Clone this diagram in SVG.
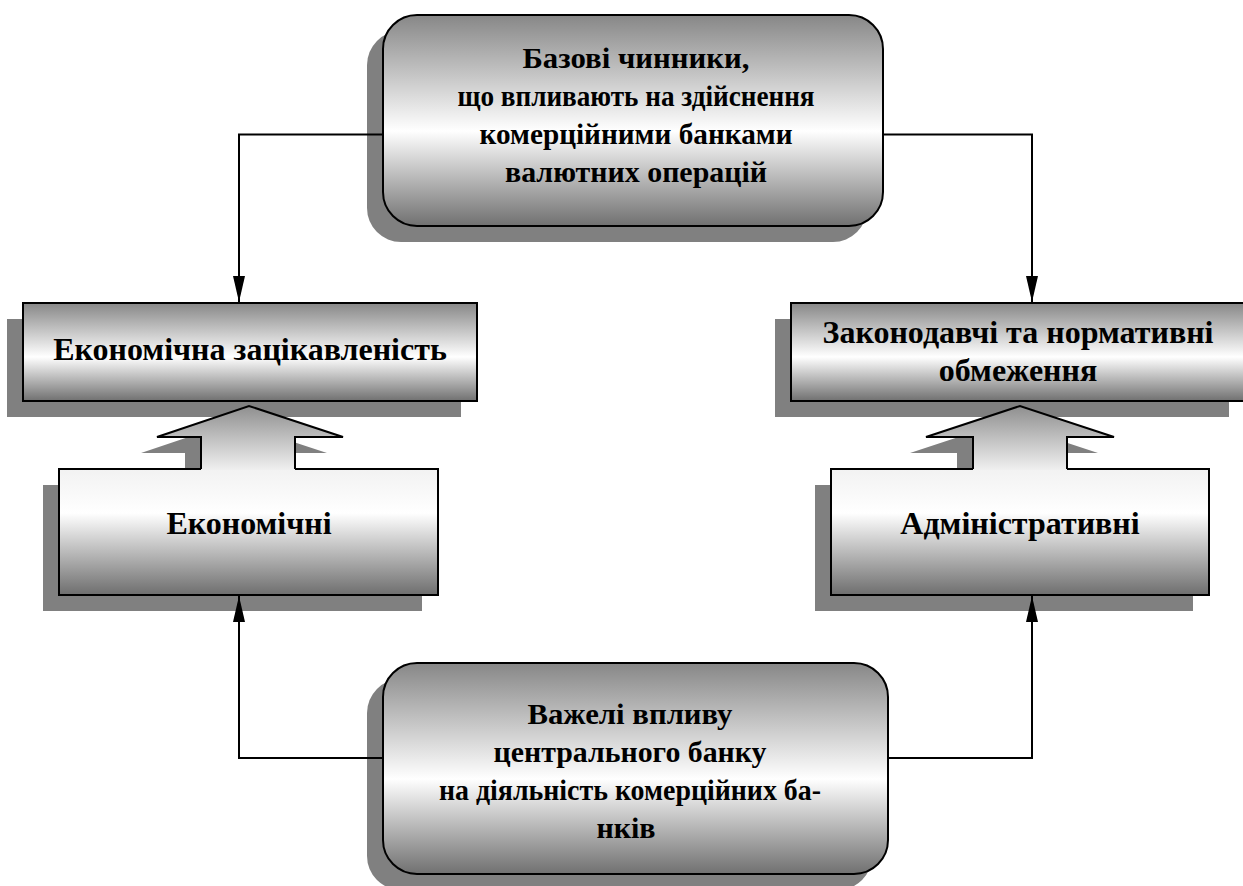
<svg xmlns="http://www.w3.org/2000/svg" width="1243" height="886" viewBox="0 0 1243 886">
  <defs>
    <linearGradient id="gBox" x1="0" y1="0" x2="0" y2="1">
      <stop offset="0" stop-color="#878787"/>
      <stop offset="0.55" stop-color="#ffffff"/>
      <stop offset="1" stop-color="#707070"/>
    </linearGradient>
    <linearGradient id="gLow" x1="0" y1="0" x2="0" y2="1">
      <stop offset="0" stop-color="#f2f2f2"/>
      <stop offset="0.35" stop-color="#ffffff"/>
      <stop offset="1" stop-color="#6e6e6e"/>
    </linearGradient>
    <linearGradient id="gArrow" x1="0" y1="0" x2="0" y2="1">
      <stop offset="0" stop-color="#8f8f8f"/>
      <stop offset="1" stop-color="#f0f0f0"/>
    </linearGradient>
    <!-- long narrow filled arrowhead; tip sits on the path end -->
    <marker id="head" viewBox="0 0 26 12" refX="26" refY="6" markerWidth="26" markerHeight="12" markerUnits="userSpaceOnUse" orient="auto">
      <path d="M0,0 L26,6 L0,12 Z" fill="#000"/>
    </marker>
  </defs>
  <style>
    .shadow { fill: #808080; }
    .box { fill: url(#gBox); stroke: #000; stroke-width: 2; }
    .low { fill: url(#gLow); stroke: #000; stroke-width: 2; }
    .arrowfill { fill: url(#gArrow); stroke: none; }
    .arrowedge { fill: none; stroke: #000; stroke-width: 2; stroke-linejoin: miter; }
    .conn { fill: none; stroke: #000; stroke-width: 2; }
    text { font-family: "Liberation Serif", "Times New Roman", serif; font-weight: bold; font-size: 30px; fill: #000; text-anchor: middle; }
    text.big { font-size: 32px; }
  </style>

  <!-- drop shadows -->
  <g id="shadows">
    <rect class="shadow" x="367" y="31" width="500" height="211" rx="34"/>
    <rect class="shadow" x="7" y="319" width="454" height="98"/>
    <rect class="shadow" x="775" y="319" width="454" height="98"/>
    <polygon class="shadow" points="233,422 327,453 279,453 279,485 185,485 185,453 141,453"/>
    <polygon class="shadow" points="1004,422 1098,453 1051,453 1051,485 957,485 957,453 910,453"/>
    <rect class="shadow" x="43" y="485" width="379" height="126"/>
    <rect class="shadow" x="815" y="485" width="378" height="126"/>
    <rect class="shadow" x="367" y="679" width="505" height="211" rx="34"/>
  </g>

  <!-- connectors -->
  <g id="connectors">
    <polyline class="conn" points="383,134.5 239,134.5 239,302" marker-end="url(#head)"/>
    <polyline class="conn" points="883,134.5 1032,134.5 1032,302" marker-end="url(#head)"/>
    <polyline class="conn" points="383,758 239,758 239,596" marker-end="url(#head)"/>
    <polyline class="conn" points="888,758 1032,758 1032,596" marker-end="url(#head)"/>
  </g>

  <g id="base-factors">
    <rect class="box" x="383" y="15" width="500" height="211" rx="34"/>
    <text x="636" y="68" textLength="227" lengthAdjust="spacingAndGlyphs">Базові чинники,</text>
    <text x="636" y="106" textLength="357" lengthAdjust="spacingAndGlyphs">що впливають на здійснення</text>
    <text x="636" y="144" textLength="313" lengthAdjust="spacingAndGlyphs">комерційними банками</text>
    <text x="636" y="182" textLength="262" lengthAdjust="spacingAndGlyphs">валютних операцій</text>
  </g>

  <g id="economic-interest">
    <rect class="box" x="23" y="303" width="454" height="98"/>
    <text class="big" x="250" y="360">Економічна зацікавленість</text>
  </g>

  <g id="legal-limits">
    <rect class="box" x="791" y="303" width="454" height="98"/>
    <text class="big" x="1018" y="343">Законодавчі та нормативні</text>
    <text class="big" x="1018" y="381">обмеження</text>
  </g>

  <g id="economic">
    <rect class="low" x="59" y="469" width="379" height="126"/>
    <polygon class="arrowfill" points="249,406 343,437 295,437 295,470 201,470 201,437 157,437"/>
    <polyline class="arrowedge" points="201,469 201,437 157,437 249,406 343,437 295,437 295,469"/>
    <text class="big" x="249" y="534">Економічні</text>
  </g>

  <g id="administrative">
    <rect class="low" x="831" y="469" width="378" height="126"/>
    <polygon class="arrowfill" points="1020,406 1114,437 1067,437 1067,470 973,470 973,437 926,437"/>
    <polyline class="arrowedge" points="973,469 973,437 926,437 1020,406 1114,437 1067,437 1067,469"/>
    <text class="big" x="1020" y="534">Адміністративні</text>
  </g>

  <g id="central-bank-levers">
    <rect class="box" x="383" y="663" width="505" height="211" rx="34"/>
    <text x="630" y="724" textLength="205" lengthAdjust="spacingAndGlyphs">Важелі впливу</text>
    <text x="630" y="762" textLength="273" lengthAdjust="spacingAndGlyphs">центрального банку</text>
    <text x="630" y="800" textLength="382" lengthAdjust="spacingAndGlyphs">на діяльність комерційних ба-</text>
    <text x="626" y="838">нків</text>
  </g>
</svg>
